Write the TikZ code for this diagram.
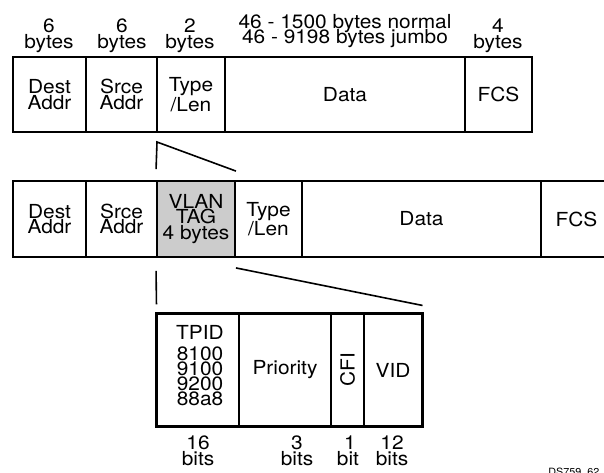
\documentclass[tikz,border=0pt]{standalone}
\usepackage{fontspec}
\setmainfont{TeX Gyre Heros}[FakeStretch=1.08]
\usetikzlibrary{calc}
\newcommand\ffont{\fontsize{14.5}{11.6}\selectfont}
\newcommand\fld[7][]{\node[fieldbox,minimum width={(#5-#3)*0.75pt},minimum height={(#6-#4)*0.75pt},#1] (#2) at ({(#3+#5)/2},{(#4+#6)/2}) {#7};}
\begin{document}
\begin{tikzpicture}[x=0.75pt,y=-0.75pt,
  fieldbox/.style={draw,line width=1.4pt,inner sep=0pt,align=center,font=\ffont},
  thinbox/.style={line width=0.8pt},
  frameline/.style={line width=1.5pt},
  zoomline/.style={line width=1.2pt},
  lbl/.style={inner sep=0pt,anchor=base,font=\ffont},
  tag/.style={fill=black!20}]
\useasboundingbox (0,0) rectangle (604,472);
% ---- top frame
\fld{tdest}{13}{57}{86}{132}{Dest\\Addr}
\fld{tsrce}{86}{57}{157}{132}{Srce\\Addr}
\fld{ttype}{157}{57}{225}{132}{Type\\/Len}
\fld{tdata}{225}{57}{465}{132}{Data}
\fld{tfcs}{465}{57}{532}{132}{FCS}
\node[lbl] (l1a) at (49,32) {6};
\node[lbl] (l1b) at (49,48) {bytes};
\node[lbl] (l2a) at (122,32) {6};
\node[lbl] (l2b) at (122,48) {bytes};
\node[lbl] (l3a) at (190,32) {2};
\node[lbl] (l3b) at (190,48) {bytes};
\node[lbl] (l4a) at (345,28) {46 - 1500 bytes normal};
\node[lbl] (l4b) at (345,43) {46 - 9198 bytes jumbo};
\node[lbl] (l5a) at (498,32) {4};
\node[lbl] (l5b) at (498,48) {bytes};
% ---- tagged frame
\fld{mdest}{13}{181}{86}{257}{Dest\\Addr}
\fld{msrce}{86}{181}{157}{257}{Srce\\Addr}
\fld[tag]{vlan}{157}{181}{235}{257}{\fontsize{14.5}{12.8}\selectfont VLAN\\TAG\\4 bytes}
\fld{mtype}{235}{181}{302}{257}{Type\\/Len}
\fld{mdata}{302}{181}{541}{257}{Data}
\fld{mfcs}{541}{181}{612}{257}{FCS}
% ---- tag detail
\fld[thinbox]{tpid}{157}{314}{239}{426}{}
\fld[thinbox]{prio}{239}{314}{331}{426}{Priority}
\fld[thinbox]{cfi}{331}{314}{364}{426}{}
\fld[thinbox]{vid}{364}{314}{422}{426}{VID}
\draw[frameline] (tpid.north west) rectangle (vid.south east);
\node[inner sep=0pt,align=center,font=\fontsize{14.5}{11.4}\selectfont] (tpidtxt) at (200,366) {TPID\\[4pt]8100\\9100\\9200\\88a8};
\node[inner sep=0pt,font=\ffont,rotate=90] (cfitxt) at (cfi.center) {CFI};
\node[lbl] (b1a) at (198,449) {16};
\node[lbl] (b1b) at (198,465) {bits};
\node[lbl] (b2a) at (297,449) {3};
\node[lbl] (b2b) at (297,465) {bits};
\node[lbl] (b3a) at (350,449) {1};
\node[lbl] (b3b) at (348,465) {bit};
\node[lbl] (b4a) at (392,449) {12};
\node[lbl] (b4b) at (392,465) {bits};
% ---- zoom lines
\coordinate (apex) at (157,142);
\draw[zoomline] ([yshift=8.25pt]vlan.north west) -- (apex) -- ([yshift=6.75pt]vlan.north east);
\draw[zoomline] ([yshift=-9.75pt]vlan.south west) -- ([yshift=6.75pt]tpid.north west);
\draw[zoomline] ([yshift=-7.5pt]vlan.south east) -- ([yshift=6pt]vid.north east);
% ---- figure id
\node[inner sep=0pt,anchor=base west,font=\fontsize{7.5}{9}\selectfont] (figid) at (548,475) {DS759\_62};
\end{tikzpicture}
\end{document}
